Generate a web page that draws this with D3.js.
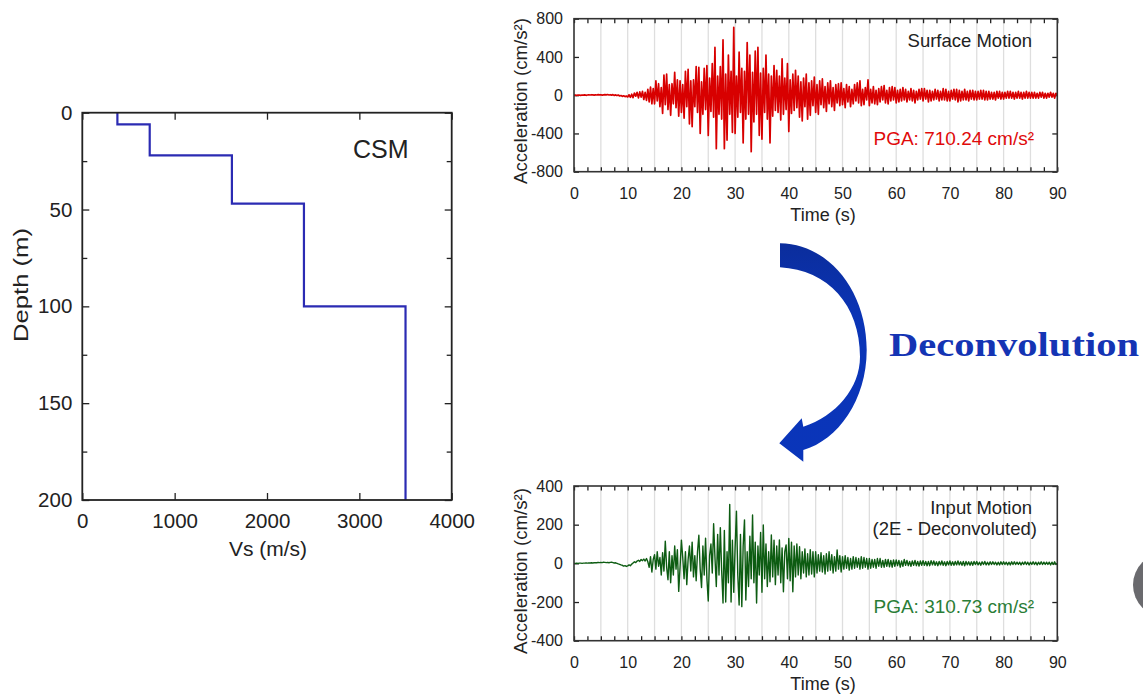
<!DOCTYPE html>
<html><head><meta charset="utf-8">
<script src="https://cdn.jsdelivr.net/npm/d3@7"></script>
<style>
body{margin:0;background:#fff;}
svg{display:block;font-family:"Liberation Sans",Arial,sans-serif;}
</style></head><body>
<svg id="c" width="1143" height="695"></svg>
<script>
// ---------------- DATA ----------------
// Shear-wave velocity profile (CSM)
const layerTop    = [0, 6, 22, 47, 100];
const layerBottom = [6, 22, 47, 100, 200];
const layerVs     = [380, 730, 1620, 2400, 3500];
const vsTicks = [0, 1000, 2000, 3000, 4000];
const depthTicks = [0, 50, 100, 150, 200];
const depthMinorTicks = [25, 75, 125, 175];

// Acceleration time histories (sampled every 0.25 s, 0–90 s)
const timeStep = 0.25;
const timeTicks = [0, 10, 20, 30, 40, 50, 60, 70, 80, 90];
const surfaceTicks = [-800, -400, 0, 400, 800];
const inputTicks = [-400, -200, 0, 200, 400];

const surfaceAcc = [
 0,1,-1,2,  1,-2,2,0,  3,-1,2,4,  2,5,3,1,  4,2,6,3,  5,1,4,6,  3,7,2,5,  1,6,-2,3,  -4,2,-8,-3,  -12,-6,-15,-9,
 -18,4,-22,10,  -25,22,-10,30,  -28,35,-20,40,  -45,30,-55,60,  -70,85,-90,70,
 -90,150,-60,120,  -120,80,-190,210,  -100,220,-150,110,  -210,120,-90,240,  -130,160,-220,150,
 -180,110,-240,250,  -120,270,-300,150,  -330,160,-120,300,  -180,290,-400,140,  -200,280,-150,310,
 -420,180,-170,330,  -230,500,-560,200,  -200,300,-250,580,  -560,220,-470,420,  -200,250,-390,710,
 -400,200,-230,450,  -180,280,-500,250,  -250,550,-200,420,  -590,240,-280,460,  -200,500,-420,230,
 -460,280,-180,420,  -250,220,-500,200,  -220,310,-160,260,  -180,200,-260,380,  -200,180,-150,330,
 -380,160,-190,220,  -160,260,-130,200,  -230,140,-270,180,  -120,220,-250,130,  -210,150,-110,190,
 -180,110,-200,150,  -100,170,-130,90,  -170,130,-90,150,  -120,80,-160,110,  -80,120,-110,130,
 -100,70,-130,110,  -70,90,-120,60,  -90,110,-60,130,  -80,150,-110,60,  -100,80,-50,160,
 -110,60,-80,90,  -90,50,-100,70,  -70,90,-50,100,  -80,50,-90,80,  -60,90,-50,80,
 -80,50,-70,60,  -60,80,-50,60,  -70,40,-50,70,  -60,50,-80,40,  -50,60,-40,70,
 -60,70,-40,50,  -70,50,-60,40,  -50,60,-40,50,  -60,40,-50,70,  -50,60,-60,40,
 -60,50,-40,60,  -50,60,-70,50,  -60,40,-50,60,  -50,40,-60,50,  -40,50,-50,40,
 -50,40,-40,50,  -40,50,-50,40,  -50,40,-40,30,  -40,30,-50,40,  -30,40,-40,30,
 -40,30,-30,40,  -30,40,-30,30,  -40,30,-30,40,  -30,30,-40,30,  -30,40,-30,30,
 -30,30,-30,30,  -30,20,-30,30,  -20,30,-30,20,  -30,20,-20,30,  -20,20,-30,20,
 0
];

const inputAcc = [
 0,0,1,0,  1,1,0,1,  1,2,1,2,  2,3,2,3,  4,3,5,4,  5,4,6,5,  4,5,3,5,  6,4,2,3,  0,-3,-5,-8,  -10,-14,-12,-16,
 -13,-8,-12,-4,  2,8,4,12,  16,10,20,14,  22,12,25,8,  -20,35,-45,20,
 45,-30,60,-15,  30,-60,55,-40,  115,-20,-85,60,  -100,40,-60,90,  -30,70,-145,-20,
 120,30,-80,60,  -110,20,90,-40,  110,-70,40,-90,  60,145,-30,-125,  90,-60,130,-80,
 -195,40,100,-50,  205,30,-120,150,  -60,185,-40,-205,  170,-200,60,-100,  305,-200,120,-150,
 80,270,-60,-215,  150,-224,90,225,  -190,60,-120,140,  -80,250,-100,110,  -205,90,-60,160,
 -150,198,-80,100,  -120,60,-95,147,  -70,120,-110,90,  -60,121,-100,80,  -147,60,95,-80,
 129,-90,110,-147,  90,-70,100,-60,  86,-80,60,-50,  75,-70,50,-60,  70,-55,60,-70,
 60,-50,45,-40,  55,-45,40,-55,  50,-40,60,-35,  45,-50,35,-40,  69,-30,40,-45,
 35,-30,40,-25,  30,-35,25,-30,  35,-25,30,-20,  25,-30,35,-25,  30,-20,25,-30,
 25,-25,20,-20,  20,-25,25,-15,  25,-20,15,-20,  20,-15,20,-18,  15,-20,18,-15,
 18,-12,15,-20,  12,-15,20,-10,  15,-12,10,-15,  12,-10,15,-12,  10,-14,12,-10,
 14,-10,10,-12,  10,-12,14,-8,  12,-10,8,-12,  10,-8,12,-10,  8,-12,10,-8,
 12,-10,8,-10,  10,-8,12,-8,  8,-10,10,-12,  10,-8,8,-10,  8,-10,10,-6,
 10,-8,6,-10,  8,-6,10,-8,  6,-8,8,-6,  8,-6,6,-8,  6,-8,8,-6,
 8,-6,6,-8,  6,-8,8,-6,  8,-6,6,-6,  6,-8,6,-6,  8,-6,6,-8,
 6,-6,8,-6,  6,-8,6,-6,  8,-6,6,-6,  6,-6,6,-8,  6,-6,8,-6,
 0
];

// ---------------- DRAWING ----------------
const svg = d3.select("#c");
const ink = "#222";
const plain = d => String(d);

function styleAxis(g, fs) {
  g.select(".domain").remove();
  g.selectAll(".tick line").attr("stroke", ink).attr("stroke-width", 1.3);
  g.selectAll(".tick text").attr("fill", ink).attr("font-size", fs)
    .attr("font-family", "Liberation Sans, Arial, sans-serif");
}

// ---- Left: Vs profile ----
const xV = d3.scaleLinear().domain([0, 4000]).range([82.3, 451.7]);
const yD = d3.scaleLinear().domain([0, 200]).range([112.7, 500]);
const gL = svg.append("g");

gL.append("g").attr("transform", `translate(0,${yD(200)})`)
  .call(d3.axisBottom(xV).tickValues(vsTicks).tickFormat(plain).tickSize(-7).tickPadding(13.5))
  .call(g => styleAxis(g, 20.5));
gL.append("g").attr("transform", `translate(0,${yD(0)})`)
  .call(d3.axisTop(xV).tickValues(vsTicks).tickSize(-7).tickFormat(""))
  .call(g => styleAxis(g, 20));
gL.append("g").attr("transform", `translate(${xV(0)},0)`)
  .call(d3.axisLeft(yD).tickValues(depthTicks).tickFormat(plain).tickSize(-7).tickPadding(10))
  .call(g => styleAxis(g, 20.5));
gL.append("g").attr("transform", `translate(${xV(0)},0)`)
  .call(d3.axisLeft(yD).tickValues(depthMinorTicks).tickSize(-5).tickFormat(""))
  .call(g => styleAxis(g, 20));
gL.append("g").attr("transform", `translate(${xV(4000)},0)`)
  .call(d3.axisRight(yD).tickValues(depthTicks).tickSize(-7).tickFormat(""))
  .call(g => styleAxis(g, 20));
gL.append("g").attr("transform", `translate(${xV(4000)},0)`)
  .call(d3.axisRight(yD).tickValues(depthMinorTicks).tickSize(-5).tickFormat(""))
  .call(g => styleAxis(g, 20));

const profilePts = [];
layerVs.forEach((v, i) => { profilePts.push([v, layerTop[i]]); profilePts.push([v, layerBottom[i]]); });
gL.append("path").datum(profilePts)
  .attr("d", d3.line().x(d => xV(d[0])).y(d => yD(d[1])))
  .attr("fill", "none").attr("stroke", "#2b2bb3").attr("stroke-width", 2.2);

gL.append("rect").attr("x", xV(0)).attr("y", yD(0))
  .attr("width", xV(4000) - xV(0)).attr("height", yD(200) - yD(0))
  .attr("fill", "none").attr("stroke", ink).attr("stroke-width", 1.8);

gL.append("text").attr("x", 353).attr("y", 158).attr("font-size", 25).attr("fill", ink).text("CSM");
gL.append("text").attr("x", 268).attr("y", 556).attr("text-anchor", "middle")
  .attr("font-size", 21).attr("fill", ink).text("Vs (m/s)");
gL.append("text").attr("transform", "translate(28,285) rotate(-90)").attr("text-anchor", "middle")
  .attr("font-size", 21).attr("fill", ink).attr("textLength", 114).attr("lengthAdjust", "spacingAndGlyphs")
  .text("Depth (m)");

// ---- Right: wave charts ----
function waveChart(o) {
  const g = svg.append("g");
  const x = d3.scaleLinear().domain([0, 90]).range([574, 1057.3]);
  const y = d3.scaleLinear().domain([o.ticks[0], o.ticks[o.ticks.length - 1]]).range([o.bottom, o.top]);
  const minorT = d3.range(0, 90.01, 2.5);
  const gridT = d3.range(5, 90, 5);

  g.selectAll(".grid").data(gridT).join("line")
    .attr("x1", d => x(d)).attr("x2", d => x(d)).attr("y1", o.top).attr("y2", o.bottom)
    .attr("stroke", "#dedede").attr("stroke-width", 1.3);

  g.append("g").attr("transform", `translate(0,${o.bottom})`)
    .call(d3.axisBottom(x).tickValues(timeTicks).tickFormat(plain).tickSize(0).tickPadding(15.5))
    .call(a => styleAxis(a, 16));
  g.append("g").attr("transform", `translate(0,${o.bottom})`)
    .call(d3.axisBottom(x).tickValues(minorT).tickSize(-4.5).tickFormat(""))
    .call(a => styleAxis(a, 16));
  g.append("g").attr("transform", `translate(0,${o.top})`)
    .call(d3.axisTop(x).tickValues(minorT).tickSize(-4.5).tickFormat(""))
    .call(a => styleAxis(a, 16));
  g.append("g").attr("transform", `translate(${x(0)},0)`)
    .call(d3.axisLeft(y).tickValues(o.ticks).tickFormat(plain).tickSize(-5).tickPadding(11))
    .call(a => styleAxis(a, 16));
  g.append("g").attr("transform", `translate(${x(90)},0)`)
    .call(d3.axisRight(y).tickValues(o.ticks).tickSize(-5).tickFormat(""))
    .call(a => styleAxis(a, 16));

  g.append("path").datum(o.data)
    .attr("d", d3.line().x((d, i) => x(i * timeStep)).y(d => y(d)))
    .attr("fill", "none").attr("stroke", o.color).attr("stroke-width", o.width)
    .attr("stroke-linejoin", "round");

  g.append("rect").attr("x", x(0)).attr("y", o.top).attr("width", x(90) - x(0)).attr("height", o.bottom - o.top)
    .attr("fill", "none").attr("stroke", "#333").attr("stroke-width", 1.6);

  o.titles.forEach((t, i) => {
    g.append("text").attr("x", o.titleX[i]).attr("y", o.titleY[i]).attr("text-anchor", "end")
      .attr("font-size", 18.5).attr("fill", ink).text(t);
  });
  g.append("text").attr("x", 1034).attr("y", o.pgaY).attr("text-anchor", "end")
    .attr("font-size", 19).attr("fill", o.textColor).text(o.pga);

  g.append("text").attr("x", 823).attr("y", o.bottom + 49).attr("text-anchor", "middle")
    .attr("font-size", 18).attr("fill", ink).text("Time (s)");
  g.append("text").attr("transform", `translate(527,${o.labelY}) rotate(-90)`).attr("text-anchor", "middle")
    .attr("font-size", 17.5).attr("fill", ink).attr("textLength", 166).attr("lengthAdjust", "spacingAndGlyphs")
    .text("Acceleration (cm/s²)");
}

waveChart({
  top: 18.7, bottom: 171.7, ticks: surfaceTicks, data: surfaceAcc,
  color: "#d80000", textColor: "#e00a0a", width: 1.7,
  titles: ["Surface Motion"], titleX: [1032], titleY: [47],
  pga: "PGA: 710.24 cm/s²", pgaY: 145, labelY: 101
});
waveChart({
  top: 486, bottom: 640.7, ticks: inputTicks, data: inputAcc,
  color: "#0d5c12", textColor: "#2a7d36", width: 1.4,
  titles: ["Input Motion", "(2E - Deconvoluted)"], titleX: [1032, 1037], titleY: [514, 535],
  pga: "PGA: 310.73 cm/s²", pgaY: 613, labelY: 571
});

// ---- Deconvolution arrow ----
const defs = svg.append("defs");
const grad = defs.append("linearGradient").attr("id", "ag").attr("x1", "0").attr("y1", "0").attr("x2", "0").attr("y2", "1");
grad.append("stop").attr("offset", "0").attr("stop-color", "#0b2d9c");
grad.append("stop").attr("offset", "0.35").attr("stop-color", "#0a34b6");
grad.append("stop").attr("offset", "1").attr("stop-color", "#0a35ba");
svg.append("path")
  .attr("d", "M780,243.3 C830,244 866.7,292 866.7,350 C866.7,400 838,440 803.3,450 L803.3,461.7 L779.3,443.3 L801.7,418.3 L803.3,426.7 C836,416 860,388 860,356.7 C860,305 828,270 780,267.3 Z")
  .attr("fill", "url(#ag)");
svg.append("text").attr("x", 889).attr("y", 356).attr("font-family", "Liberation Serif, serif")
  .attr("font-weight", "bold").attr("font-size", 33).attr("fill", "#1434b4")
  .attr("textLength", 250).attr("lengthAdjust", "spacingAndGlyphs").text("Deconvolution");

// gray circle at the right edge
svg.append("circle").attr("cx", 1165).attr("cy", 585).attr("r", 32).attr("fill", "#6a6a6e");
</script>
</body></html>
